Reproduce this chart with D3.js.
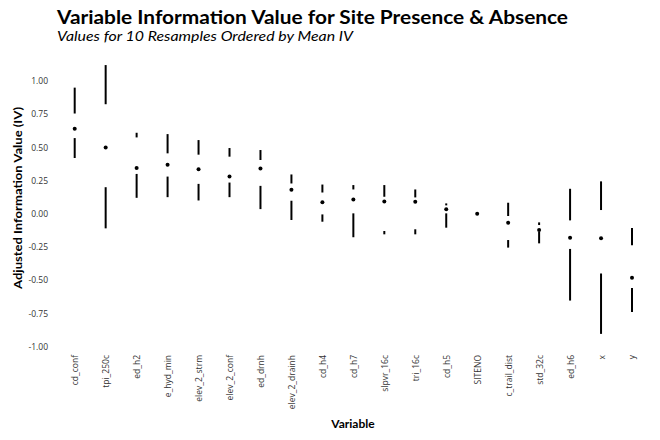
<!DOCTYPE html>
<html>
  <head>
    <meta charset="utf-8">
    <style>
      body { margin: 0; background: #fff; }
      .tick text { font-family: "Open Sans", sans-serif; font-size: 8.5px; fill: #333; }
      .title { font-family: Lato, sans-serif; font-weight: bold; font-size: 18px; fill: #000; }
      .subtitle { font-family: Lato, sans-serif; font-style: italic; font-size: 13.5px; fill: #000; }
      .axis-title { font-family: Lato, sans-serif; font-weight: bold; font-size: 12px; fill: #000; }
    </style>
    <script src="https://d3js.org/d3.v7.min.js"></script>
  </head>

  <body>
    <svg width="660" height="440"></svg>

    <script>
      // variables ordered by mean IV
      var variables = ["cd_conf", "tpi_250c", "ed_h2", "e_hyd_min", "elev_2_strm", "elev_2_conf",
        "ed_drnh", "elev_2_drainh", "cd_h4", "cd_h7", "slpvr_16c", "tri_16c", "cd_h5",
        "SITENO", "c_trail_dist", "std_32c", "ed_h6", "x", "y"];
      // five-number summaries over the 10 resamples
      var minIV = [0.42, -0.11, 0.12, 0.125, 0.10, 0.125, 0.035, -0.047, -0.06, -0.177,
        -0.155, -0.155, -0.105, 0, -0.255, -0.223, -0.654, -0.905, -0.741];
      var q1IV = [0.57, 0.20, 0.30, 0.28, 0.225, 0.235, 0.21, 0.098, -0.005, 0.003,
        -0.13, -0.117, 0.003, 0, -0.198, -0.135, -0.265, -0.45, -0.559];
      var medIV = [0.64, 0.50, 0.345, 0.37, 0.335, 0.28, 0.34, 0.18, 0.086, 0.108,
        0.093, 0.09, 0.033, 0, -0.068, -0.123, -0.18, -0.185, -0.483];
      var q3IV = [0.755, 0.825, 0.575, 0.455, 0.445, 0.43, 0.405, 0.228, 0.16, 0.183,
        0.128, 0.123, 0.063, 0, -0.017, -0.085, -0.05, 0.028, -0.238];
      var maxIV = [0.95, 1.12, 0.61, 0.60, 0.555, 0.495, 0.48, 0.296, 0.22, 0.216,
        0.216, 0.183, 0.078, 0, 0.083, -0.065, 0.188, 0.244, -0.108];
      var yTicks = [-1, -0.75, -0.5, -0.25, 0, 0.25, 0.5, 0.75, 1];

      var svg = d3.select("svg");

      var xScale = d3.scalePoint().domain(variables).range([74.7, 632]),
        yScale = d3.scaleLinear().domain([-1, 1]).range([346.5, 81]);

      var rows = variables.map(function (v, i) {
        return { name: v, min: minIV[i], q1: q1IV[i], med: medIV[i], q3: q3IV[i], max: maxIV[i] };
      });

      // titles
      svg.append("text").attr("class", "title")
        .attr("x", 57).attr("y", 23.5)
        .attr("textLength", 511).attr("lengthAdjust", "spacingAndGlyphs")
        .text("Variable Information Value for Site Presence & Absence");
      svg.append("text").attr("class", "subtitle")
        .attr("x", 57).attr("y", 41)
        .attr("textLength", 296).attr("lengthAdjust", "spacingAndGlyphs")
        .text("Values for 10 Resamples Ordered by Mean IV");

      // axes, tufte style: labels only
      var yAxis = svg.append("g")
        .attr("transform", "translate(51,0)")
        .call(d3.axisLeft(yScale).tickValues(yTicks).tickSize(0).tickPadding(3)
          .tickFormat(function (d) { return d.toFixed(2); }));
      yAxis.select(".domain").remove();

      var xAxis = svg.append("g")
        .attr("transform", "translate(0,352)")
        .call(d3.axisBottom(xScale).tickSize(0));
      xAxis.select(".domain").remove();
      xAxis.selectAll(".tick text")
        .attr("transform", "rotate(-90)")
        .attr("text-anchor", "end")
        .attr("x", -3)
        .attr("y", 0)
        .attr("dy", "0.35em");

      svg.append("text").attr("class", "axis-title")
        .attr("text-anchor", "middle")
        .attr("x", 353).attr("y", 428)
        .text("Variable");
      svg.append("text").attr("class", "axis-title")
        .attr("text-anchor", "middle")
        .attr("transform", "translate(22,198) rotate(-90)")
        .attr("textLength", 182).attr("lengthAdjust", "spacingAndGlyphs")
        .text("Adjusted Information Value (IV)");

      // whiskers and median dots
      var g = svg.append("g");
      g.selectAll(".lower")
        .data(rows)
        .enter()
        .append("line")
        .attr("class", "lower")
        .attr("x1", function (d) { return xScale(d.name); })
        .attr("x2", function (d) { return xScale(d.name); })
        .attr("y1", function (d) { return yScale(d.min); })
        .attr("y2", function (d) { return yScale(d.q1); })
        .attr("stroke", "#000")
        .attr("stroke-width", 2);
      g.selectAll(".upper")
        .data(rows)
        .enter()
        .append("line")
        .attr("class", "upper")
        .attr("x1", function (d) { return xScale(d.name); })
        .attr("x2", function (d) { return xScale(d.name); })
        .attr("y1", function (d) { return yScale(d.q3); })
        .attr("y2", function (d) { return yScale(d.max); })
        .attr("stroke", "#000")
        .attr("stroke-width", 2);
      g.selectAll(".med")
        .data(rows)
        .enter()
        .append("circle")
        .attr("class", "med")
        .attr("cx", function (d) { return xScale(d.name); })
        .attr("cy", function (d) { return yScale(d.med); })
        .attr("r", 2)
        .attr("fill", "#000");
    </script>
  </body>
</html>
